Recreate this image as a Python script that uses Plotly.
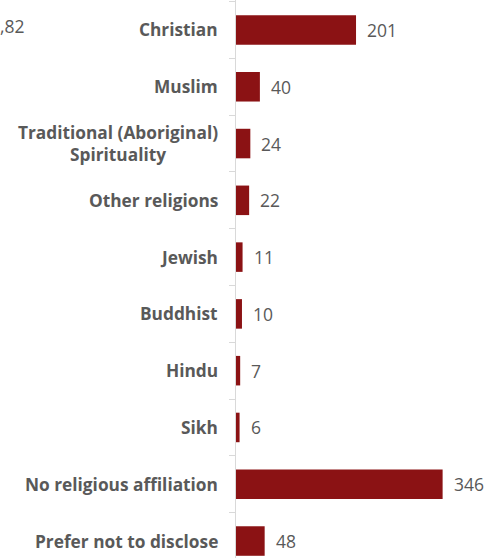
import plotly.graph_objects as go

categories = ["Christian", "Muslim", "Traditional (Aboriginal)<br>Spirituality", "Other religions",
              "Jewish", "Buddhist", "Hindu", "Sikh", "No religious affiliation", "Prefer not to disclose"]
values = [201, 40, 24, 22, 11, 10, 7, 6, 346, 48]
corner_text = ",82"

BAR = "#8B1214"
GRAY = "#595959"
FONT = "Open Sans"

fig = go.Figure()
fig.add_trace(go.Bar(
    x=values, y=categories, orientation="h",
    marker=dict(color=BAR, line=dict(width=0)),
    width=0.52, hoverinfo="skip",
))

for c, v in zip(categories, values):
    fig.add_annotation(x=0, xref="paper", y=c, yref="y", text=f"<b>{c}</b>",
                       xanchor="right", xshift=-16, align="center", showarrow=False,
                       font=dict(family=FONT, size=17.3, color=GRAY))
    fig.add_annotation(x=v, xref="x", y=c, yref="y", text=str(v),
                       xanchor="left", xshift=9, showarrow=False,
                       font=dict(family=FONT, size=17.5, color=GRAY))

fig.add_annotation(x=-0.829, xref="paper", y=0.953, yref="paper", text=corner_text,
                   xanchor="right", yanchor="middle", showarrow=False,
                   font=dict(family=FONT, size=17.5, color=GRAY))

fig.update_layout(
    width=488, height=558,
    margin=dict(l=236, r=0, t=0, b=0, autoexpand=False),
    paper_bgcolor="white", plot_bgcolor="white",
    showlegend=False, hovermode=False,
    xaxis=dict(range=[0, 422], visible=False, fixedrange=True),
    yaxis=dict(
        categoryorder="array", categoryarray=categories,
        range=[9.299, -0.528], fixedrange=True,
        showticklabels=False, tickson="boundaries",
        ticks="outside", ticklen=6, tickcolor="#D9D9D9", tickwidth=1,
        showline=True, linecolor="#D9D9D9", linewidth=1,
        showgrid=False, zeroline=False,
    ),
)
fig.write_html("out.html", config={"displayModeBar": False, "staticPlot": True},
               post_script="document.body.style.margin='0';document.body.style.overflow='hidden';")
